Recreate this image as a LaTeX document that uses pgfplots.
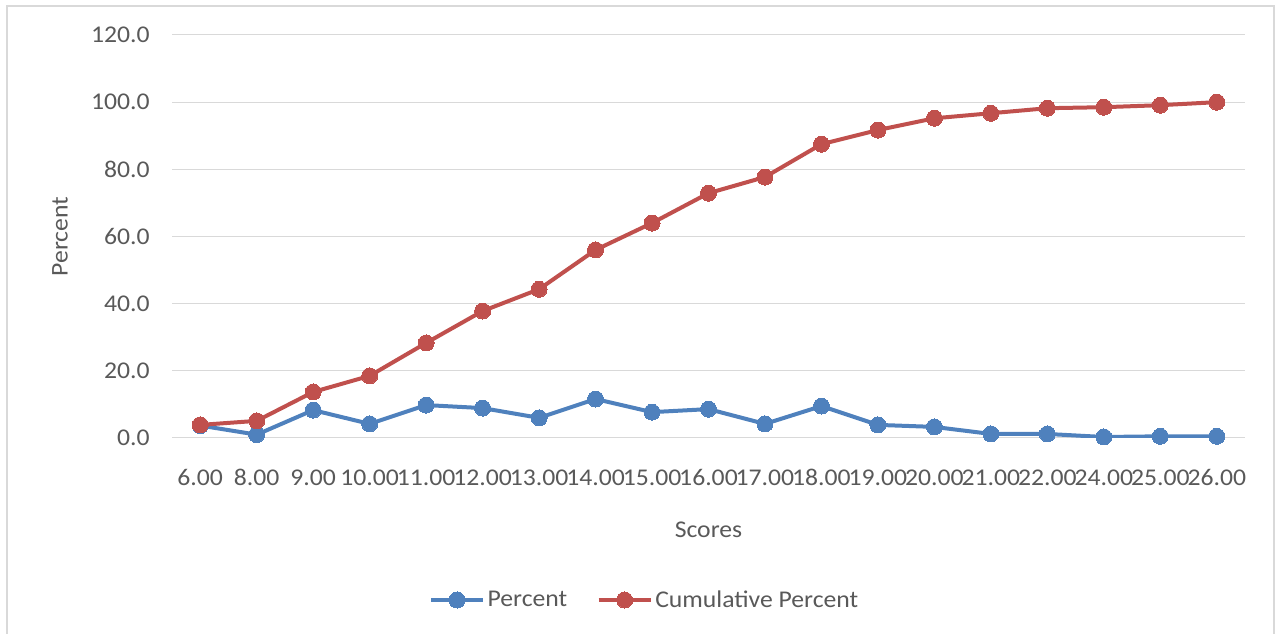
\documentclass[border=0pt]{standalone}
\usepackage{pgfplots}
\pgfplotsset{compat=1.18}
\usepackage{fontspec}
\setmainfont{Carlito}[FakeStretch=1.07]
\definecolor{cblue}{HTML}{4F81BD}
\definecolor{cred}{HTML}{C0504D}
\definecolor{ctext}{HTML}{595959}
\definecolor{cgrid}{HTML}{D9D9D9}
\begin{document}
\begin{tikzpicture}
\path[use as bounding box] (0pt,0pt) rectangle (957.75pt,475.5pt);
\draw[cgrid, line width=1.5pt] (5.25pt,-5pt) -- (5.25pt,471pt) -- (955.5pt,471pt) -- (955.5pt,-5pt);
\begin{axis}[
  at={(129pt,147pt)}, anchor=south west,
  scale only axis, width=804.75pt, height=302.25pt,
  xmin=-0.5, xmax=18.5, ymin=0, ymax=120,
  ytick={0,20,...,120},
  xtick={0,...,18},
  xticklabels={6.00,8.00,9.00,10.00,11.00,12.00,13.00,14.00,15.00,16.00,17.00,18.00,19.00,20.00,21.00,22.00,24.00,25.00,26.00},
  axis line style={draw=none},
  axis x line*=bottom,
  x axis line style={draw=cgrid, line width=0.75pt},
  major tick length=0pt,
  ymajorgrids, grid style={cgrid, line width=0.75pt},
  /pgf/number format/assume math mode=true,
  yticklabel={\pgfmathprintnumber[fixed,fixed zerofill,precision=1]{\tick}},
  yticklabel style={anchor=east, inner sep=0pt, xshift=-16.5pt, font=\fontsize{18}{21.6}\selectfont, text=ctext},
  xticklabel style={anchor=north, inner sep=0pt, yshift=-23.5pt, font=\fontsize{18}{21.6}\selectfont, text=ctext},
  xlabel={Scores}, ylabel={Percent},
  xlabel style={at={(axis description cs:0.5,-0.2283)}, anchor=center, font=\fontsize{18}{21.6}\selectfont, text=ctext},
  ylabel style={at={(axis description cs:-0.1044,0.5)}, anchor=center, font=\fontsize{18}{21.6}\selectfont, text=ctext},
  legend style={at={(axis description cs:0.4408,-0.402)}, anchor=center, draw=none, fill=none,
    font=\fontsize{18}{21.6}\selectfont, text=ctext, inner xsep=0pt, inner ysep=0pt,
    nodes={inner xsep=2pt, inner ysep=1pt},
    /tikz/every even column/.append style={column sep=20pt}},
  legend columns=2,
  legend cell align=left,
  legend image code/.code={\draw[#1, mark=none] (0pt,0pt) -- (39pt,0pt);
    \draw[#1] plot coordinates {(19.5pt,0pt)};},
]
\addplot[cblue, line width=3pt, mark=*, mark size=6pt, mark options={solid, fill=cblue, draw=cblue, line width=0pt}]
 coordinates {(0,3.7) (1,1.0) (2,8.3) (3,4.2) (4,9.8) (5,8.9) (6,6.0) (7,11.6) (8,7.7) (9,8.6) (10,4.2) (11,9.5) (12,3.9) (13,3.3) (14,1.2) (15,1.2) (16,0.3) (17,0.5) (18,0.5)};
\addlegendentry{Percent}
\addplot[cred, line width=3pt, mark=*, mark size=6pt, mark options={solid, fill=cred, draw=cred, line width=0pt}]
 coordinates {(0,3.9) (1,5.1) (2,13.7) (3,18.5) (4,28.3) (5,37.8) (6,44.3) (7,56.0) (8,64.0) (9,72.9) (10,77.7) (11,87.5) (12,91.7) (13,95.2) (14,96.7) (15,98.2) (16,98.5) (17,99.1) (18,100.0)};
\addlegendentry{Cumulative Percent}
\end{axis}
\end{tikzpicture}
\end{document}
